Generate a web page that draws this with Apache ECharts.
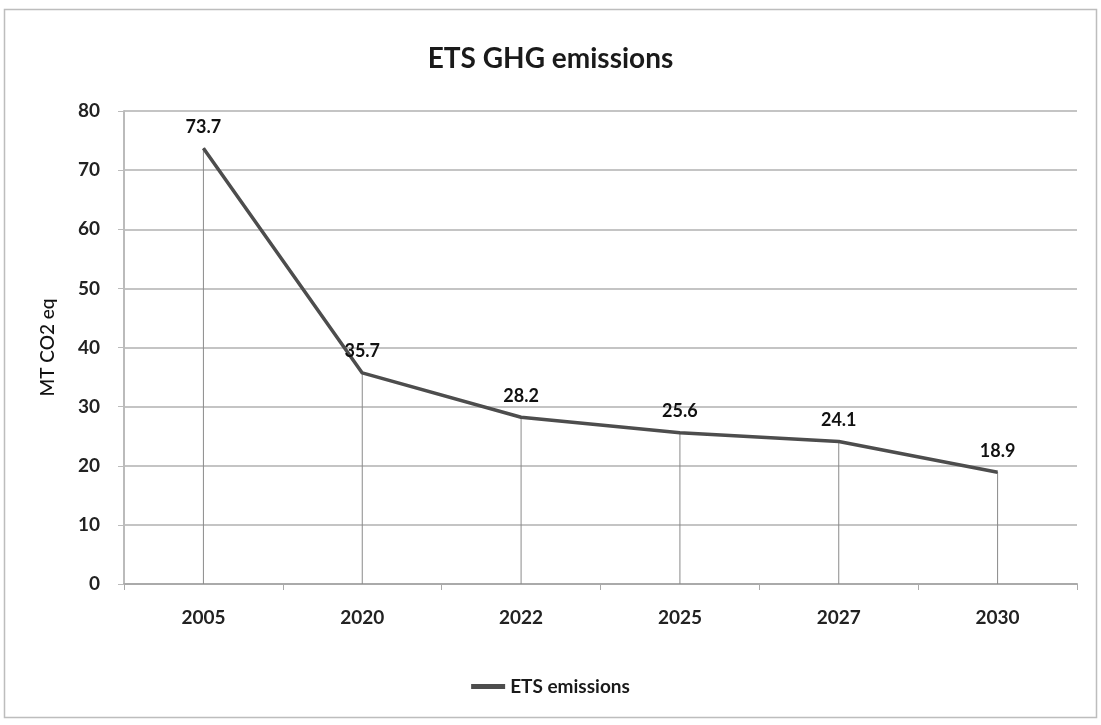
<!DOCTYPE html>
<html><head><meta charset="utf-8">
<script src="https://cdn.jsdelivr.net/npm/echarts@6/dist/echarts.min.js"></script>
<style>html,body{margin:0;padding:0;background:#fff}#c{width:1101px;height:725px}</style>
</head><body><div id="c"></div>
<script>
const categories = ['2005','2020','2022','2025','2027','2030'];
const emissions = [73.7, 35.7, 28.2, 25.6, 24.1, 18.9];
const yTicks = [0,10,20,30,40,50,60,70,80];

const chart = echarts.init(document.getElementById('c'));
const font = 'Lato, "Open Sans", sans-serif';
chart.setOption({
  backgroundColor: '#fff',
  animation: false,
  graphic: [{type:'rect', shape:{x:4.5,y:9.5,width:1092,height:708}, style:{fill:'none', stroke:'#bdbdbd', lineWidth:1.5}}],
  title: {text:'ETS GHG emissions', left:'center', top:40, textStyle:{fontFamily:font, fontSize:28, fontWeight:'bold', color:'#1a1a1a'}},
  legend: {data:['ETS emissions'], bottom:24, left:'center', itemWidth:34, itemHeight:5, icon:'rect', itemGap:4,
    textStyle:{fontFamily:font, fontSize:19, fontWeight:'bold', color:'#1a1a1a'}},
  grid: {left:124, right:24, top:111, bottom:141, containLabel:false},
  xAxis: {type:'category', data:categories, boundaryGap:true,
    axisLine:{lineStyle:{color:'#aaa', width:2}},
    axisTick:{show:true, length:6, lineStyle:{color:'#aaa'}},
    axisLabel:{fontFamily:font, fontSize:19, fontWeight:'bold', color:'#222', margin:24},
    splitLine:{show:false}},
  yAxis: {type:'value', min:0, max:80, interval:10,
    name:'MT CO2 eq', nameLocation:'middle', nameGap:67, nameRotate:90,
    nameTextStyle:{fontFamily:font, fontSize:19, fontWeight:500, color:'#111'},
    axisLine:{show:true, lineStyle:{color:'#bbb', width:2}},
    axisTick:{show:true, length:6, lineStyle:{color:'#bbb'}},
    axisLabel:{fontFamily:font, fontSize:19, fontWeight:'bold', color:'#222', margin:24,
      formatter: v => yTicks.includes(v) ? String(v) : ''},
    splitLine:{lineStyle:{color:'#c4c4c4', width:2}}},
  series: [
    {name:'drop', type:'bar', data:emissions, barWidth:1, silent:true,
     itemStyle:{color:'#8a8a8a'}, z:1},
    {name:'ETS emissions', type:'line', data:emissions, showSymbol:true, symbol:'circle', symbolSize:1, z:3,
     lineStyle:{color:'#4d4d4d', width:3.5}, itemStyle:{color:'#4d4d4d'},
     label:{show:true, position:'top', distance:12, fontFamily:font, fontSize:18, fontWeight:'bold', color:'#111'}}
  ]
});
</script></body></html>
